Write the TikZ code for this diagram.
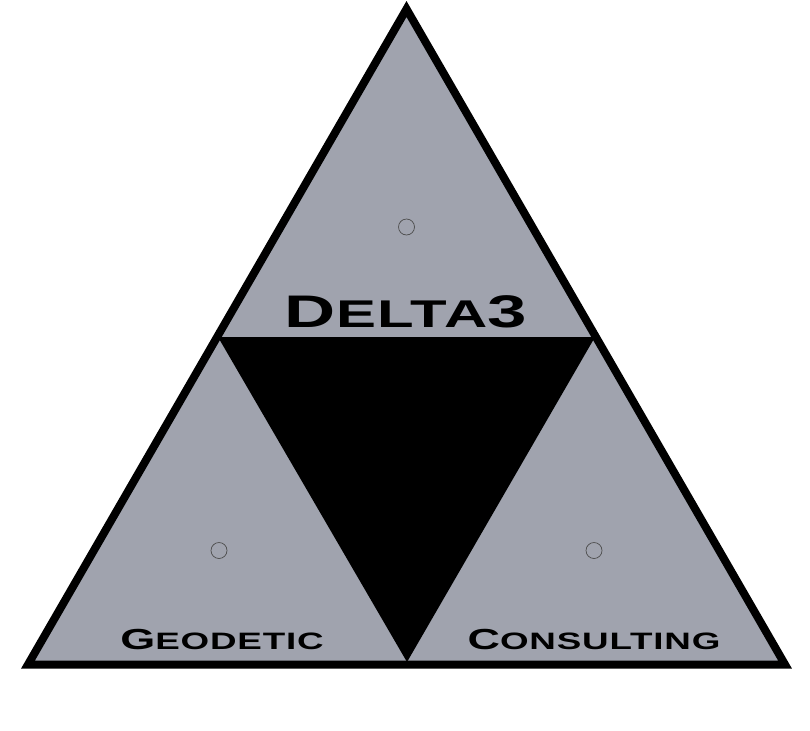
\documentclass[tikz,border=0pt]{standalone}
\usepackage{fontspec}
\newfontfamily\logofont[FakeStretch=1.55,LetterSpace=3.5]{Liberation Sans Bold}
\definecolor{panelgray}{RGB}{160,163,174}
\tikzset{
	panel/.style={draw=black,fill=panelgray,line width=0.16cm,miter limit=10},
	hole/.style={circle,draw=black!70,line width=0.4pt,minimum size=0.32cm,inner sep=0pt},
	logotext/.style={anchor=base,inner sep=0pt,text=black}
}
\begin{document}
\begin{tikzpicture}[x=0.02cm,y=-0.02cm]
	\useasboundingbox (0,0) rectangle (810,730);
	\coordinate (top) at (406.5,9);
	\coordinate (left) at (28,664.5);
	\coordinate (right) at (785,664.5);
	\draw[panel] (top) -- (right) -- (left) -- cycle;
	\fill (218,337) -- (595,337) -- (407,662) -- cycle;
	\node[hole] (holetop) at (406.5,227) {};
	\node[hole] (holeleft) at (219,550.5) {};
	\node[hole] (holeright) at (594,550.5) {};
	% small caps are set by hand
	\node[logotext] (delta) at (406,327) {\fontsize{26pt}{26pt}\logofont D\fontsize{22pt}{22pt}\selectfont ELTA\fontsize{26pt}{26pt}\selectfont 3};
	\node[logotext] (geodetic) at (222,649) {\fontsize{16.5pt}{16.5pt}\logofont G\fontsize{13.5pt}{13.5pt}\selectfont EODETIC};
	\node[logotext] (consulting) at (594,649) {\fontsize{16.5pt}{16.5pt}\logofont C\fontsize{13.5pt}{13.5pt}\selectfont ONSULTING};
\end{tikzpicture}
\end{document}
